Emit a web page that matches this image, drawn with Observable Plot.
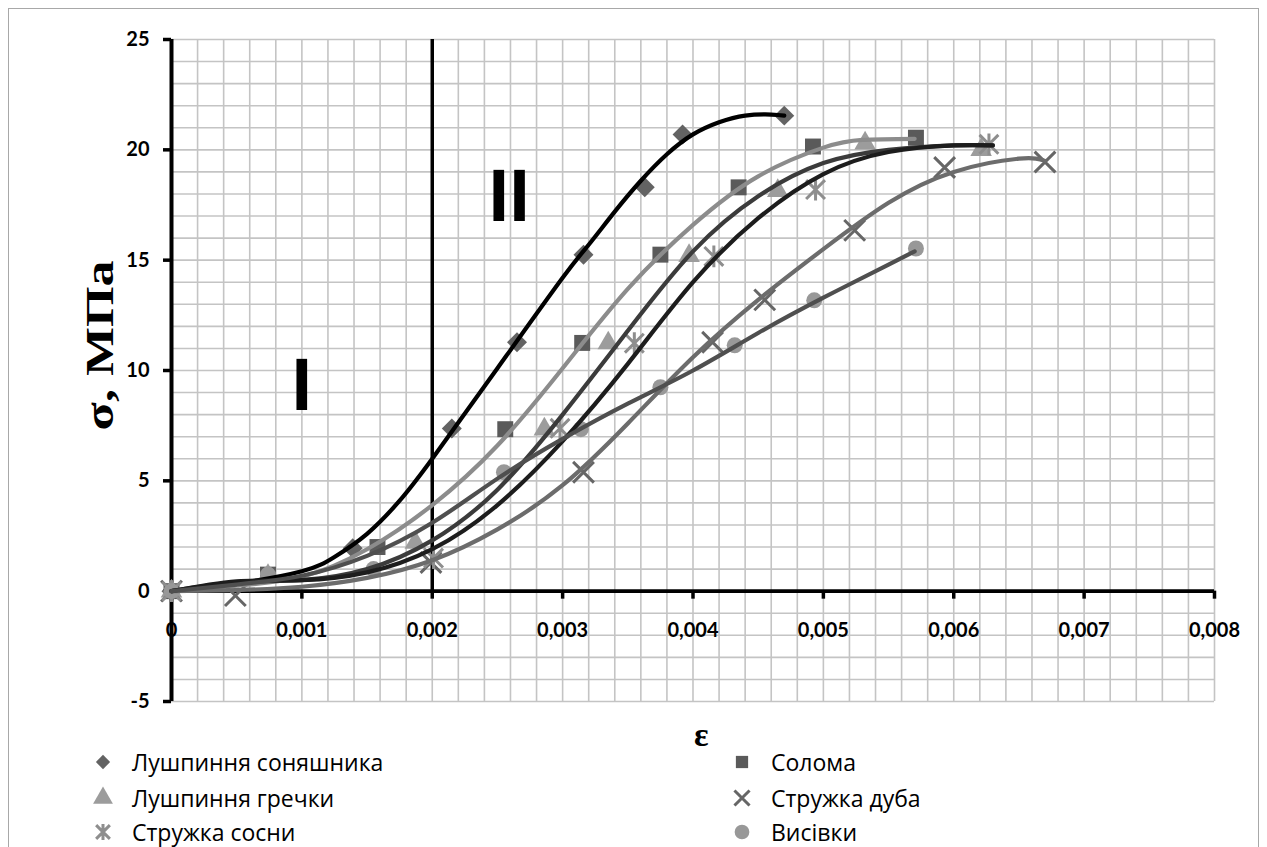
<!DOCTYPE html>
<html>
<head>
<meta charset="utf-8">
<script src="https://cdn.jsdelivr.net/npm/d3@7"></script>
<script src="https://cdn.jsdelivr.net/npm/@observablehq/plot@0.6"></script>
<style>
  body { margin: 0; background: #fff; }
  #wrap { position: relative; width: 1267px; height: 847px; overflow: hidden; background: #fff; }
  #frame { position: absolute; left: 8px; top: 8px; width: 1251px; height: 860px; border: 1.5px solid #a8a8a8; box-sizing: border-box; }
  #chart { position: absolute; left: 0; top: 0; }
  #epsLabel { position: absolute; left: 694px; top: 716px; font: bold 34px "Liberation Serif", serif; color: #000; }
  .leg { position: absolute; font: 23px/28px "Open Sans", Roboto, sans-serif; color: #000; display: flex; align-items: center; white-space: nowrap; }
  .leg svg { margin-right: 17px; }
</style>
</head>
<body>
<div id="wrap">
  <div id="frame"></div>
  <div id="chart"></div>
  <div id="epsLabel">ε</div>
</div>
<script>
// ---- data ----
const seriesNames = ["Лушпиння соняшника", "Солома", "Лушпиння гречки", "Стружка дуба", "Стружка сосни", "Висівки"];

// measured points (markers)
const sunflowerX = [0, 0.00139, 0.00215, 0.00265, 0.00316, 0.00363, 0.00392, 0.0047];
const sunflowerY = [0, 1.95, 7.37, 11.28, 15.25, 18.3, 20.7, 21.55];
const strawX = [0, 0.00074, 0.00158, 0.00256, 0.00315, 0.00375, 0.00435, 0.00492, 0.00571];
const strawY = [0, 0.75, 2.0, 7.34, 11.25, 15.25, 18.3, 20.15, 20.55];
const buckwheatX = [0, 0.00074, 0.00187, 0.00286, 0.00335, 0.00397, 0.00465, 0.00532, 0.00621];
const buckwheatY = [0, 0.7, 2.2, 7.34, 11.24, 15.2, 18.15, 20.3, 20.0];
const oakX = [0, 0.00049, 0.00199, 0.00316, 0.00415, 0.00455, 0.00524, 0.00593, 0.0067];
const oakY = [0, -0.2, 1.3, 5.39, 11.28, 13.2, 16.35, 19.2, 19.45];
const pineX = [0, 0.00201, 0.00298, 0.00355, 0.00416, 0.00494, 0.00627];
const pineY = [0, 1.5, 7.38, 11.24, 15.17, 18.2, 20.25];
const branX = [0, 0.00074, 0.00155, 0.00255, 0.00314, 0.00375, 0.00432, 0.00493, 0.00571];
const branY = [0, 0.75, 1.0, 5.39, 7.34, 9.24, 11.14, 13.18, 15.53];

// trend curves
const sunflowerCurveX = [0, 0.0005, 0.001, 0.00125, 0.0015, 0.00175, 0.002, 0.0025, 0.003, 0.0032, 0.0034, 0.0036, 0.0038, 0.004, 0.0042, 0.0044, 0.0046, 0.0047];
const sunflowerCurveY = [0, 0.35, 0.9, 1.55, 2.6, 4.1, 6.0, 10.1, 14.2, 15.7, 17.2, 18.6, 19.8, 20.7, 21.25, 21.55, 21.6, 21.55];
const strawCurveX = [0, 0.0005, 0.001, 0.0015, 0.002, 0.0025, 0.003, 0.0035, 0.004, 0.0045, 0.005, 0.0053, 0.0057];
const strawCurveY = [0, 0.25, 0.65, 1.9, 3.9, 6.6, 10.1, 13.7, 16.6, 18.8, 20.1, 20.45, 20.5];
const buckwheatCurveX = [0, 0.0005, 0.001, 0.0015, 0.002, 0.0025, 0.003, 0.0035, 0.004, 0.0045, 0.005, 0.0055, 0.006, 0.0063];
const buckwheatCurveY = [0, 0.4, 0.5, 1.0, 2.3, 4.6, 8.0, 11.8, 15.4, 17.9, 19.4, 20.0, 20.2, 20.2];
const pineCurveX = [0, 0.0005, 0.001, 0.0015, 0.002, 0.0025, 0.003, 0.0035, 0.004, 0.0045, 0.005, 0.0055, 0.006, 0.0063];
const pineCurveY = [0, 0.45, 0.5, 0.85, 1.9, 3.9, 6.8, 10.3, 14.0, 16.9, 18.9, 19.9, 20.2, 20.2];
const oakCurveX = [0, 0.0005, 0.001, 0.0015, 0.002, 0.0025, 0.003, 0.0035, 0.004, 0.0045, 0.005, 0.0055, 0.006, 0.0065, 0.0067];
const oakCurveY = [0, 0.05, 0.2, 0.6, 1.4, 2.8, 4.8, 7.6, 10.6, 13.2, 15.5, 17.6, 19.0, 19.6, 19.5];
const branCurveX = [0, 0.0005, 0.001, 0.0015, 0.002, 0.0025, 0.003, 0.0035, 0.004, 0.0045, 0.005, 0.0055, 0.0057];
const branCurveY = [0, 0.3, 0.7, 1.6, 3.1, 5.1, 6.9, 8.5, 10.0, 11.7, 13.3, 14.8, 15.4];

// axes
const xTicks = [0, 0.001, 0.002, 0.003, 0.004, 0.005, 0.006, 0.007, 0.008];
const xTickLabels = ["0", "0,001", "0,002", "0,003", "0,004", "0,005", "0,006", "0,007", "0,008"];
const yTicks = [-5, 0, 5, 10, 15, 20, 25];
const yTickLabels = ["-5", "0", "5", "10", "15", "20", "25"];
const xMinorStep = 0.0002;
const yMinorStep = 1;
const dividerX = [0.002];
const regionNames = ["I", "II"];
const regionX = [0.001, 0.00259];
const regionY = [9.3, 17.85];
const yTitle = "σ, МПа";

// ---- build ----
const zip = (xs, ys) => xs.map((x, i) => ({x, y: ys[i]}));
const minorX = d3.range(0, 0.008 + 1e-9, xMinorStep);
const minorY = d3.range(-5, 25 + 1e-9, yMinorStep);

const starSymbol = {
  draw(ctx, size) {
    const r = Math.sqrt(size) * 0.56;
    ctx.moveTo(-r, -r); ctx.lineTo(r, r);
    ctx.moveTo(-r, r); ctx.lineTo(r, -r);
    ctx.moveTo(0, -r * 1.15); ctx.lineTo(0, r * 1.15);
  }
};

const styles = [
  {name: seriesNames[0], pts: zip(sunflowerX, sunflowerY), curve: zip(sunflowerCurveX, sunflowerCurveY), symbol: "diamond2", color: "#636363", filled: true, line: "#000000", r: 9},
  {name: seriesNames[1], pts: zip(strawX, strawY), curve: zip(strawCurveX, strawCurveY), symbol: "square", color: "#5a5a5a", filled: true, line: "#8c8c8c", r: 9},
  {name: seriesNames[2], pts: zip(buckwheatX, buckwheatY), curve: zip(buckwheatCurveX, buckwheatCurveY), symbol: "triangle", color: "#9c9c9c", filled: true, line: "#3b3b3b", r: 8},
  {name: seriesNames[3], pts: zip(oakX, oakY), curve: zip(oakCurveX, oakCurveY), symbol: "times", color: "#666666", filled: false, line: "#6c6c6c", r: 9.5},
  {name: seriesNames[4], pts: zip(pineX, pineY), curve: zip(pineCurveX, pineCurveY), symbol: starSymbol, color: "#8e8e8e", filled: false, line: "#1d1d1d", r: 9.5},
  {name: seriesNames[5], pts: zip(branX, branY), curve: zip(branCurveX, branCurveY), symbol: "circle", color: "#989898", filled: true, line: "#4f4f4f", r: 8}
];

const H = 720, MT = 39, MB = 19;
const frameH = H - MT - MB;
const pxPerUnitY = frameH / 30;

const markerMarks = styles.map(s => s.filled
  ? Plot.dot(s.pts, {x: "x", y: "y", symbol: s.symbol, fill: s.color, stroke: "none", r: s.r})
  : Plot.dot(s.pts, {x: "x", y: "y", symbol: s.symbol, fill: "none", stroke: s.color, strokeWidth: 3, r: s.r}));

const curveMarks = styles.map(s => Plot.line(s.curve, {x: "x", y: "y", stroke: s.line, strokeWidth: 4.2, curve: "natural", strokeLinecap: "round"}));

const regions = regionNames.map((t, i) => ({t, x: regionX[i], y: regionY[i]}));

const chart = Plot.plot({
  width: 1267,
  height: H,
  marginTop: MT,
  marginBottom: MB,
  marginLeft: 171,
  marginRight: 53,
  style: {fontFamily: "Lato, 'Open Sans', sans-serif", background: "transparent", overflow: "visible"},
  x: {domain: [0, 0.008]},
  y: {domain: [-5, 25]},
  marks: [
    Plot.ruleX(minorX, {y1: -5, y2: 25, stroke: "#c4c4c4", strokeWidth: 1.6}),
    Plot.ruleY(minorY, {x1: 0, x2: 0.008, stroke: "#c4c4c4", strokeWidth: 1.6}),
    Plot.ruleX(dividerX, {y1: 0, y2: 25, stroke: "#000", strokeWidth: 3.5}),
    Plot.ruleY([0], {x1: 0, x2: 0.008, stroke: "#000", strokeWidth: 3.6}),
    Plot.ruleX([0], {y1: -5, y2: 25, stroke: "#000", strokeWidth: 4}),
    Plot.axisY({ticks: yTicks, tickFormat: (d) => yTickLabels[yTicks.indexOf(d)], tickSize: 8, tickPadding: 14, strokeWidth: 3.5, fontSize: 20, fontWeight: "bold", label: null}),
    Plot.axisX({ticks: xTicks, tickFormat: (d) => xTickLabels[xTicks.indexOf(d)], tickSize: 8, tickPadding: 24, strokeWidth: 3.5, fontSize: 20, fontWeight: "bold", label: null, dy: -5 * pxPerUnitY}),
    ...markerMarks,
    ...curveMarks,
    Plot.text(regions, {x: "x", y: "y", text: "t", fontSize: 74, fontWeight: "bold", fontFamily: "Liberation Sans, Arial, sans-serif", fill: "#000", lineAnchor: "middle"}),
    Plot.text([yTitle], {frameAnchor: "left", rotate: -90, dx: -71, dy: -25, textAnchor: "middle", fontSize: 40, fontWeight: "bold", fontFamily: "Liberation Serif, serif", fill: "#000"})
  ]
});
document.getElementById("chart").appendChild(chart);

// stretch the rotated y title along its reading direction, as in the original
d3.select(chart).selectAll("text").filter(function () { return this.textContent === yTitle; })
  .attr("transform", function () { return (this.getAttribute("transform") || "") + " scale(1.3,1)"; });

// ---- legend ----
const legendPos = [
  {left: 91, top: 762}, {left: 730, top: 762},
  {left: 91, top: 798}, {left: 730, top: 798},
  {left: 91, top: 832}, {left: 730, top: 832}
];
const wrap = d3.select("#wrap");
styles.forEach((s, k) => {
  const p = legendPos[k];
  const item = wrap.append("div").attr("class", "leg").style("left", p.left + "px").style("top", (p.top - 14) + "px").style("height", "28px");
  const svg = item.append("svg").attr("width", 24).attr("height", 24).attr("viewBox", "-12 -12 24 24");
  const sym = typeof s.symbol === "string" ? ({diamond2: d3.symbolDiamond2, square: d3.symbolSquare, triangle: d3.symbolTriangle, times: d3.symbolTimes, circle: d3.symbolCircle})[s.symbol] : s.symbol;
  const size = s.symbol === "circle" ? 170 : (s.symbol === "diamond2" ? 130 : (s.symbol === "triangle" ? 170 : 150));
  const path = svg.append("path").attr("d", d3.symbol(sym, size)());
  if (s.filled) path.attr("fill", s.color);
  else path.attr("fill", "none").attr("stroke", s.color).attr("stroke-width", 3);
  item.append("span").text(s.name);
});
</script>
</body>
</html>
